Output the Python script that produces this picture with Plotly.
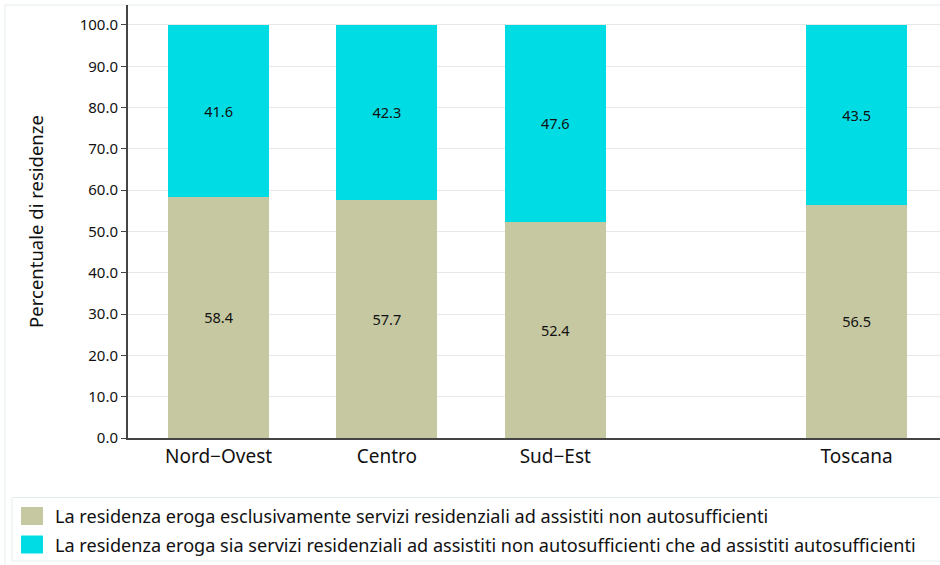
import plotly.graph_objects as go

categories = ["Nord\u2212Ovest", "Centro", "Sud\u2212Est", "Toscana"]
solo_non_auto = [58.4, 57.7, 52.4, 56.5]
entrambi = [41.6, 42.3, 47.6, 43.5]
series_names = [
    "La residenza eroga esclusivamente servizi residenziali ad assistiti non autosufficienti",
    "La residenza eroga sia servizi residenziali ad assistiti non autosufficienti che ad assistiti autosufficienti",
]
y_tickvals = [0, 10, 20, 30, 40, 50, 60, 70, 80, 90, 100]

# layout (positions on the numeric x axis; Toscana separated by a gap)
x_pos = [1, 2, 3, 4.79]
COL1 = "#c6c8a2"
COL2 = "#00dce4"
FONT = "Noto Sans"

W, H = 940, 565
L, R, T, B = 128, 0, 5, 127


def px_x(px):
    return (px - L) / (W - L - R)


def px_y(py):
    return (H - B - py) / (H - T - B)


fig = go.Figure()
fig.add_trace(go.Bar(
    x=x_pos, y=solo_non_auto, name=series_names[0], marker_color=COL1,
    text=[f"{v:.1f}" for v in solo_non_auto], textposition="inside",
    insidetextanchor="middle", textfont=dict(color="#111", size=14.5, family=FONT),
    width=0.6, showlegend=False, marker_line_width=0,
))
fig.add_trace(go.Bar(
    x=x_pos, y=entrambi, name=series_names[1], marker_color=COL2,
    text=[f"{v:.1f}" for v in entrambi], textposition="inside",
    insidetextanchor="middle", textfont=dict(color="#111", size=14.5, family=FONT),
    width=0.6, showlegend=False, marker_line_width=0,
))

shapes = []
annotations = []
# outer light frame
shapes.append(dict(type="rect", xref="paper", yref="paper",
                   x0=px_x(5), x1=px_x(960), y0=px_y(600), y1=px_y(5),
                   line=dict(color="#e4ecee", width=1), fillcolor="rgba(0,0,0,0)", layer="below"))
# legend box
shapes.append(dict(type="rect", xref="paper", yref="paper",
                   x0=px_x(12), x1=px_x(960), y0=px_y(561), y1=px_y(497.5),
                   line=dict(color="#e4ecee", width=1), fillcolor="rgba(0,0,0,0)"))
for i, (name, col) in enumerate(zip(series_names, [COL1, COL2])):
    cy = 516 + i * 28.5
    shapes.append(dict(type="rect", xref="paper", yref="paper",
                       x0=px_x(21), x1=px_x(43), y0=px_y(cy + 9), y1=px_y(cy - 9),
                       line=dict(width=0), fillcolor=col))
    annotations.append(dict(text=name, xref="paper", yref="paper", x=px_x(53), y=px_y(cy),
                            xanchor="left", yanchor="middle", showarrow=False,
                            font=dict(size=18.1, color="#111", family=FONT)))

fig.update_layout(
    barmode="stack",
    width=W, height=H,
    margin=dict(l=L, r=R, t=T, b=B),
    paper_bgcolor="white", plot_bgcolor="white",
    font=dict(family=FONT, color="#222"),
    showlegend=False,
    shapes=shapes,
    annotations=annotations,
    xaxis=dict(
        tickmode="array", tickvals=x_pos, ticktext=categories,
        range=[0.462, 1 + (W - R - 219) / 168.25],
        showgrid=False, showline=True, linecolor="#444", linewidth=1.5,
        ticks="", tickfont=dict(size=19, color="#111", family=FONT),
        zeroline=False,
    ),
    yaxis=dict(
        range=[0, 104.84], tickvals=y_tickvals,
        ticktext=[f"{v:.1f}" for v in y_tickvals],
        showgrid=True, gridcolor="#e8e8e8", gridwidth=1,
        showline=True, linecolor="#444", linewidth=2,
        ticks="outside", ticklen=5, tickcolor="#444",
        tickfont=dict(size=15, color="#111", family=FONT),
        zeroline=False,
        title=dict(text="Percentuale di residenze", font=dict(size=18.5, color="#111", family=FONT), standoff=31),
    ),
)

fig.write_html("out.html", config={"displayModeBar": False},
               post_script="document.body.style.margin='0';")
